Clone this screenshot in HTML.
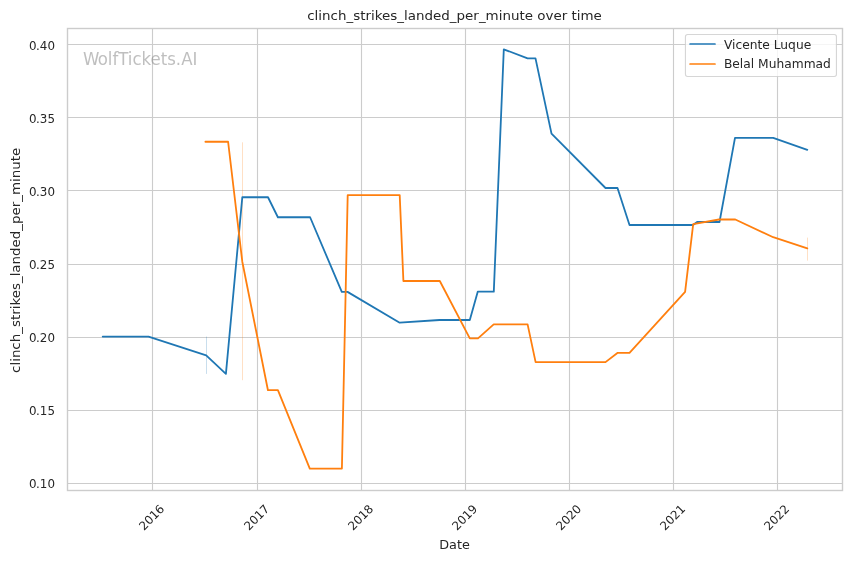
<!DOCTYPE html>
<html lang="en">
<head>
<meta charset="utf-8">
<title>clinch_strikes_landed_per_minute over time</title>
<style>
html,body{margin:0;padding:0;background:#fff;}
body{width:852px;height:561px;overflow:hidden;}
svg{display:block;font-family:"DejaVu Sans","Liberation Sans",sans-serif;fill:#262626;}
.g line{stroke:#cccccc;stroke-width:1.11;}
.tick{font-size:12.22px;}
.lab{font-size:13.33px;}
</style>
</head>
<body>
<svg width="852" height="561" viewBox="0 0 852 561">
<rect x="0" y="0" width="852" height="561" fill="#ffffff"/>

<g class="g">
<line x1="152.5" y1="28.5" x2="152.5" y2="490.5"/>
<line x1="257.5" y1="28.5" x2="257.5" y2="490.5"/>
<line x1="361.5" y1="28.5" x2="361.5" y2="490.5"/>
<line x1="465.5" y1="28.5" x2="465.5" y2="490.5"/>
<line x1="569.5" y1="28.5" x2="569.5" y2="490.5"/>
<line x1="673.5" y1="28.5" x2="673.5" y2="490.5"/>
<line x1="777.5" y1="28.5" x2="777.5" y2="490.5"/>
<line x1="67.5" y1="44.5" x2="842.5" y2="44.5"/>
<line x1="67.5" y1="117.5" x2="842.5" y2="117.5"/>
<line x1="67.5" y1="190.5" x2="842.5" y2="190.5"/>
<line x1="67.5" y1="264.5" x2="842.5" y2="264.5"/>
<line x1="67.5" y1="337.5" x2="842.5" y2="337.5"/>
<line x1="67.5" y1="410.5" x2="842.5" y2="410.5"/>
<line x1="67.5" y1="483.5" x2="842.5" y2="483.5"/>
</g>
<text font-size="100px" transform="translate(83.1,64.8) scale(0.1658,0.172)" x="0" y="0" dx="0 -5" fill="#808080" fill-opacity="0.5">WolfTickets.AI</text>
<line x1="206.5" y1="336.6" x2="206.5" y2="373.9" stroke="#1f77b4" stroke-opacity="0.3" stroke-width="0.8"/>
<line x1="242.5" y1="142.3" x2="242.5" y2="380.2" stroke="#ff7f0e" stroke-opacity="0.3" stroke-width="0.8"/>
<line x1="807.5" y1="237.6" x2="807.5" y2="260.6" stroke="#ff7f0e" stroke-opacity="0.3" stroke-width="0.8"/>
<polyline points="102.70,336.60 148.50,336.60 206.20,355.40 225.90,373.90 242.30,197.25 268.00,197.25 277.90,217.25 310.10,217.25 341.80,291.90 347.50,291.90 399.70,322.70 439.50,320.00 469.80,320.00 477.80,291.60 493.80,291.60 503.80,49.30 527.60,58.40 535.50,58.40 551.50,133.60 605.50,188.00 617.50,188.00 629.50,225.00 693.00,225.00 697.10,222.00 719.50,222.00 735.00,137.90 773.20,137.90 807.30,149.80" fill="none" stroke="#1f77b4" stroke-width="1.8" stroke-linejoin="round" stroke-linecap="round"/>
<polyline points="205.40,141.75 228.10,141.75 242.30,261.70 267.95,390.20 277.90,390.20 309.80,468.60 341.90,468.60 347.70,195.05 399.70,195.05 403.40,281.00 439.80,281.00 469.80,338.45 478.00,338.45 493.70,324.40 527.60,324.40 535.60,362.10 605.50,362.10 617.40,352.95 629.50,352.95 685.10,291.80 693.20,224.20 719.00,219.50 735.30,219.50 773.20,237.20 807.30,248.40" fill="none" stroke="#ff7f0e" stroke-width="1.8" stroke-linejoin="round" stroke-linecap="round"/>
<rect x="67.5" y="28.5" width="775.0" height="462.0" fill="none" stroke="#cccccc" stroke-width="1.39"/>
<g text-anchor="end" font-size="100px">
<text transform="translate(54.95,49.95) scale(0.1189,0.1215)" x="0" y="0" dx="0 -5 0 0">0.40</text>
<text transform="translate(54.95,122.95) scale(0.1189,0.1215)" x="0" y="0" dx="0 -5 0 0">0.35</text>
<text transform="translate(54.95,195.95) scale(0.1189,0.1215)" x="0" y="0" dx="0 -5 0 0">0.30</text>
<text transform="translate(54.95,268.95) scale(0.1189,0.1215)" x="0" y="0" dx="0 -5 0 0">0.25</text>
<text transform="translate(54.95,341.95) scale(0.1189,0.1215)" x="0" y="0" dx="0 -5 0 0">0.20</text>
<text transform="translate(54.95,414.95) scale(0.1189,0.1215)" x="0" y="0" dx="0 -5 0 0">0.15</text>
<text transform="translate(54.95,487.95) scale(0.1189,0.1215)" x="0" y="0" dx="0 -5 0 0">0.10</text>
</g>
<g text-anchor="middle" font-size="100px">
<text transform="translate(151.5,517.25) rotate(-45) scale(0.118)" x="0" y="36.5">2016</text>
<text transform="translate(256.5,517.25) rotate(-45) scale(0.118)" x="0" y="36.5">2017</text>
<text transform="translate(360.5,517.25) rotate(-45) scale(0.118)" x="0" y="36.5">2018</text>
<text transform="translate(464.5,517.25) rotate(-45) scale(0.118)" x="0" y="36.5">2019</text>
<text transform="translate(568.5,517.25) rotate(-45) scale(0.118)" x="0" y="36.5">2020</text>
<text transform="translate(672.5,517.25) rotate(-45) scale(0.118)" x="0" y="36.5">2021</text>
<text transform="translate(776.5,517.25) rotate(-45) scale(0.118)" x="0" y="36.5">2022</text>
</g>
<text font-size="100px" text-anchor="middle" transform="translate(454.5,548.9) scale(0.1284,0.1222)" x="0" y="0">Date</text>
<text font-size="100px" transform="translate(20.2,372.94) rotate(-90) scale(0.1341,0.1275)" x="0" y="0">clinch_strikes_landed_per_minute</text>
<text text-anchor="middle" font-size="100px" transform="translate(454.55,19.8) scale(0.13447,0.1275)" x="0" y="0">clinch_strikes_landed_per_minute over time</text>
<rect x="685.45" y="34.5" width="151.0" height="41.93" rx="2.2" ry="2.2" fill="#ffffff" fill-opacity="0.8" stroke="#cccccc" stroke-opacity="0.8" stroke-width="1.11"/>
<line x1="690.1" y1="44.0" x2="715.0" y2="44.0" stroke="#1f77b4" stroke-width="1.7" stroke-linecap="round"/>
<line x1="690.1" y1="64.0" x2="715.0" y2="64.0" stroke="#ff7f0e" stroke-width="1.7" stroke-linecap="round"/>
<text font-size="100px" transform="translate(723.9,49.0) scale(0.1227,0.1222)" x="0" y="0">Vicente Luque</text>
<text font-size="100px" transform="translate(723.9,68.0) scale(0.1227,0.1222)" x="0" y="0">Belal Muhammad</text>
</svg>
</body>
</html>
